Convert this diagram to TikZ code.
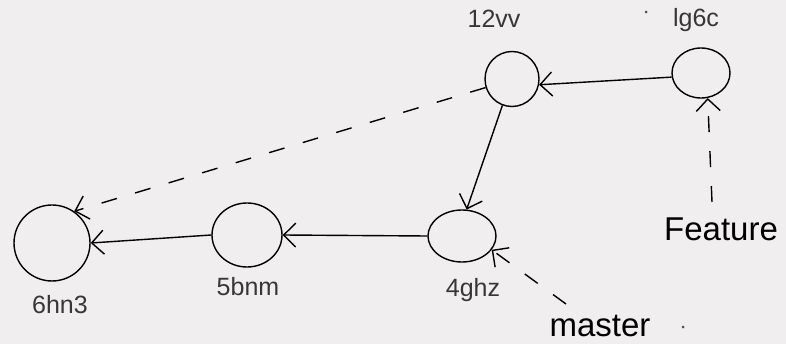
\documentclass[tikz,border=0pt]{standalone}
\usepackage{fontspec}
\setmainfont{Liberation Sans}
\usetikzlibrary{shapes.geometric,arrows.meta}
\definecolor{bg}{RGB}{240,238,239}
\definecolor{lblc}{RGB}{55,55,55}
\tikzset{
  commit/.style={ellipse,draw=black,line width=1.4pt,inner sep=0pt},
  lbl/.style={anchor=base,text=lblc,font=\fontsize{25}{28}\selectfont,inner sep=0pt},
  hand/.style={anchor=base,text=black,font=\fontsize{33}{36}\selectfont,inner sep=0pt},
  link/.style={draw=black,line width=1.4pt,-{Straight Barb[length=12pt,width=24pt,line width=1.4pt]}},
  ptr/.style={link,dash pattern=on 16pt off 19pt},
  speck/.style={circle,fill=black!70,inner sep=0pt,minimum size=3pt}
}
\begin{document}
\begin{tikzpicture}[x=1pt,y=-1pt]
\fill[bg] (0,0) rectangle (786,344);
\useasboundingbox (0,0) rectangle (786,344);
% commits
\node[commit,minimum width=76pt,minimum height=76pt] (n6) at (52,243) {};
\node[commit,minimum width=70pt,minimum height=64pt] (n5) at (247,235) {};
\node[commit,minimum width=68pt,minimum height=52pt] (n4) at (462,236) {};
\node[commit,minimum width=54pt,minimum height=55pt] (n12) at (512,79) {};
\node[commit,minimum width=58pt,minimum height=50pt] (nl) at (701,73) {};
% labels
\node[lbl] (l6) at (60,313) {6hn3};
\node[lbl] (l5) at (248,295) {5bnm};
\node[lbl] (l4) at (473,297) {4ghz};
\node[lbl] (l12) at (494,28) {12vv};
\node[lbl] (ll) at (696,27) {lg6c};
% branch names
\node[hand] (ft) at (721,241) {Feature};
\node[hand] (ms) at (600,336) {master};
\node[speck] (d1) at (646,12) {};
\node[speck] (d2) at (683,327) {};
\coordinate (fst) at (712,202);
\coordinate (mst) at (566,304);
% history
\draw[link] (nl.188) -- (n12.-12);
\draw[link] (n12.-110) -- (n4.80);
\draw[link] (n4.west) -- (n5.east);
\draw[link] (n5.west) -- (n6.east);
\draw[ptr] (n12.198) -- (n6.55);
\draw[ptr] (fst) -- (nl.-75);
\draw[ptr] (mst) -- (n4.-25);
\end{tikzpicture}
\end{document}
